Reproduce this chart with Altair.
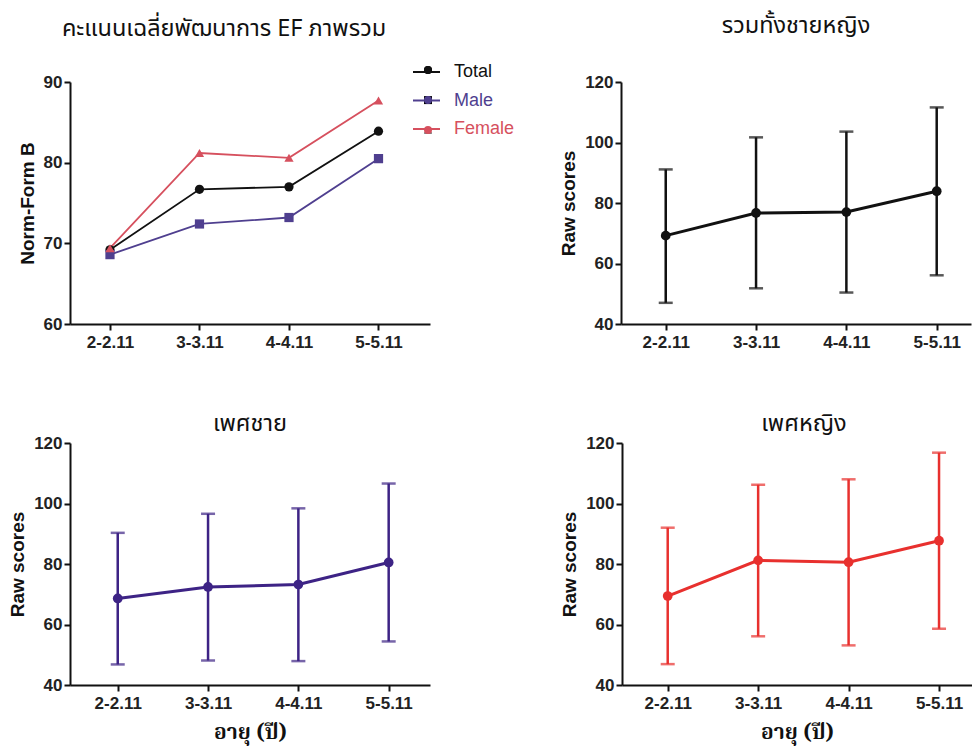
import altair as alt
import pandas as pd

# ---------------- data ----------------
ages = ["2-2.11", "3-3.11", "4-4.11", "5-5.11"]
series_names = ["Total", "Male", "Female"]

total_mean = [69.2, 76.7, 77.0, 83.9]
male_mean = [68.6, 72.4, 73.2, 80.5]
female_mean = [69.4, 81.2, 80.6, 87.7]

total_lower = [47.0, 51.8, 50.4, 56.1]
total_upper = [91.1, 101.7, 103.6, 111.6]
male_lower = [46.8, 48.1, 47.9, 54.4]
male_upper = [90.3, 96.6, 98.4, 106.6]
female_lower = [46.9, 56.1, 53.1, 58.6]
female_upper = [92.0, 106.2, 108.0, 116.8]

title_overall = "คะแนนเฉลี่ยพัฒนาการ EF ภาพรวม"
title_total = "รวมทั้งชายหญิง"
title_male = "เพศชาย"
title_female = "เพศหญิง"
x_title = "อายุ (ปี)"

# ---------------- styles ----------------
LATIN = "Liberation Sans"
THAI = "Noto Sans Thai, Tahoma, sans-serif"
THAI_SERIF = "Noto Serif Thai, Noto Serif, serif"
C_TOTAL = "#111111"
C_MALE = "#4f3f8f"
C_FEMALE = "#d6505e"
C_MALE_PANEL = "#3d2385"
C_FEMALE_PANEL = "#e8302e"

H = 242
W_LEFT = 360
W_RIGHT = 350
TITLE_SIZE = 23.5


def x_enc(pad, align, title=None):
    return alt.X(
        "age:O", sort=ages,
        scale=alt.Scale(type="point", padding=pad, align=align),
        axis=alt.Axis(title=title, labelAngle=0, labelPadding=4, tickSize=6,
                      titleFont=THAI_SERIF, titleFontSize=21, titleFontWeight="bold",
                      titleColor="#111", titlePadding=10),
    )


def y_axis(title, values):
    return alt.Axis(title=title, values=values, labelPadding=2, tickSize=6,
                    titleFont=LATIN, titleFontSize=19, titleFontWeight="bold",
                    titleColor="#111", titlePadding=6)


# ---------- panel 1 ----------
rows = []
for name, vals in zip(series_names, [total_mean, male_mean, female_mean]):
    for a, v in zip(ages, vals):
        rows.append({"series": name, "series2": name, "age": a, "value": v})
df1 = pd.DataFrame(rows)

x1 = x_enc(0.511, 0.437)
y1 = alt.Y("value:Q", scale=alt.Scale(domain=[60, 90], nice=False, zero=False),
           axis=y_axis("Norm-Form B", [60, 70, 80, 90]))

label_color = alt.ExprRef(
    "datum.label == 'Male' ? '" + C_MALE + "' : (datum.label == 'Female' ? '"
    + C_FEMALE + "' : '" + C_TOTAL + "')"
)

LEG_X = 342
LEG_Y = -24.5

lines1 = alt.Chart(df1).mark_line(strokeWidth=1.8).encode(
    x=x1, y=y1,
    color=alt.Color("series:N",
                    scale=alt.Scale(domain=series_names, range=[C_TOTAL, C_MALE, C_FEMALE]),
                    legend=alt.Legend(orient="none", legendX=LEG_X, legendY=LEG_Y, title=None,
                                      symbolType="stroke", symbolSize=729,
                                      symbolStrokeWidth=2, labelFont=LATIN,
                                      labelFontSize=18, labelOffset=13, rowPadding=4.5,
                                      labelColor=label_color)),
    detail="series:N",
)
point_legend = alt.Legend(orient="none", legendX=LEG_X + 7, legendY=LEG_Y + 3.6,
                          title=None, symbolSize=64, labelOpacity=0, labelExpr="' '",
                          labelFont=LATIN, labelFontSize=18, rowPadding=12,
                          symbolStrokeWidth=0, symbolOpacity=1)
pts1 = alt.Chart(df1).mark_point(filled=True, opacity=1).encode(
    x=x1, y=y1,
    fill=alt.Fill("series2:N", sort=series_names,
                  scale=alt.Scale(range=[C_TOTAL, C_MALE, C_FEMALE]),
                  legend=point_legend),
    shape=alt.Shape("series2:N", sort=series_names,
                    scale=alt.Scale(range=["circle", "square", "triangle-up"]),
                    legend=point_legend),
    size=alt.value(85),
)
p1 = alt.layer(lines1, pts1).properties(
    width=W_LEFT, height=H,
    title=alt.TitleParams(title_overall, font=THAI, fontSize=TITLE_SIZE, fontWeight="normal",
                          color="#111", anchor="middle", dx=-26, offset=33),
)


# ---------- panels 2-4 ----------
def raw_panel(title, mean, lower, upper, color, xtitle, width, pad, align,
              title_offset, title_dx):
    df = pd.DataFrame({"age": ages, "mean": mean, "lower": lower, "upper": upper})
    xe = x_enc(pad, align, xtitle)
    ys = alt.Scale(domain=[40, 120], nice=False, zero=False)
    yax = y_axis("Raw scores", [40, 60, 80, 100, 120])
    base = alt.Chart(df)
    rule = base.mark_rule(color=color, strokeWidth=2.5).encode(
        x=xe, y=alt.Y("lower:Q", scale=ys, axis=yax), y2="upper:Q")
    cap_lo = base.mark_tick(color=color, thickness=2.5, size=14, orient="horizontal").encode(
        x=xe, y=alt.Y("lower:Q", scale=ys))
    cap_hi = base.mark_tick(color=color, thickness=2.5, size=14, orient="horizontal").encode(
        x=xe, y=alt.Y("upper:Q", scale=ys))
    line = base.mark_line(color=color, strokeWidth=3).encode(
        x=xe, y=alt.Y("mean:Q", scale=ys))
    pts = base.mark_circle(color=color, size=95, opacity=1).encode(
        x=xe, y=alt.Y("mean:Q", scale=ys))
    return alt.layer(rule, cap_lo, cap_hi, line, pts).properties(
        width=width, height=H,
        title=alt.TitleParams(title, font=THAI, fontSize=TITLE_SIZE, fontWeight="normal",
                              color="#111", anchor="middle", offset=title_offset,
                              dx=title_dx),
    )


p2 = raw_panel(title_total, total_mean, total_lower, total_upper, C_TOTAL, None,
               W_RIGHT, 0.4374, 0.566, 36, 0)
p3 = raw_panel(title_male, male_mean, male_lower, male_upper, C_MALE_PANEL, x_title,
               W_LEFT, 0.493, 0.536, -1, 0)
p4 = raw_panel(title_female, female_mean, female_lower, female_upper, C_FEMALE_PANEL, x_title,
               W_RIGHT, 0.435, 0.581, -1, 7)

row1 = alt.hconcat(p1, p2, spacing=191, bounds="flush")
row2 = alt.hconcat(p3, p4, spacing=192, bounds="flush")

chart = alt.vconcat(row1, row2, spacing=61).properties(
    padding={"left": 0, "top": 5, "right": 0, "bottom": 10},
    background="white",
).configure_view(stroke=None).configure_axis(
    domainColor="#111", domainWidth=2, tickColor="#111", tickWidth=2,
    labelFont=LATIN, labelFontSize=17, labelFontWeight="bold", labelColor="#222",
    grid=False,
)

chart.save("out.html", embed_options={"renderer": "svg", "actions": False})
